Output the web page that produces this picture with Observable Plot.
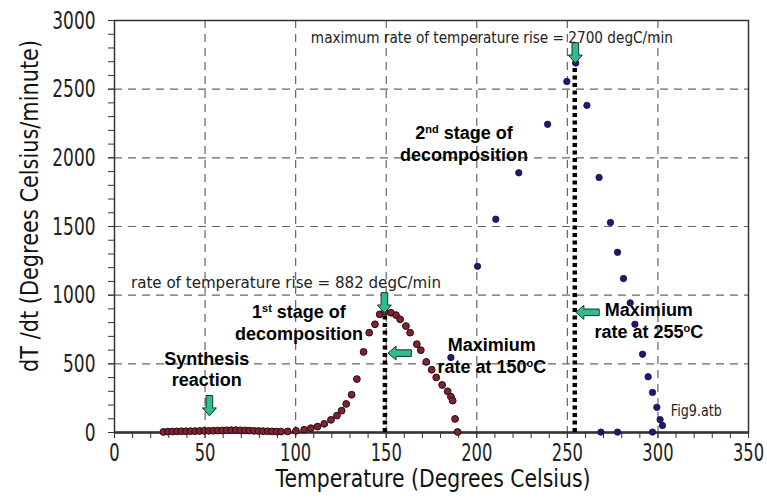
<!DOCTYPE html>
<html>
<head>
<meta charset="utf-8">
<script src="https://cdn.jsdelivr.net/npm/d3@7"></script>
<script src="https://cdn.jsdelivr.net/npm/@observablehq/plot@0.6"></script>
<style>
  html, body { margin: 0; padding: 0; background: #fff; }
  #chart svg { display: block; }
</style>
</head>
<body>
<div id="chart"></div>
<script>
// ---- data ----
const redT = [27, 29.5, 32, 34.5, 37, 39.5, 42, 44.5, 47, 49.5, 52, 54.5, 57, 59.5, 62, 64.5, 67, 69.5, 72, 74.5, 77, 79.5, 82, 84.5, 87, 89.5, 92,
  95.6, 100.2, 104.7, 108.4, 112.1, 115.8, 119.5, 122.8, 125.4, 127.9, 130.9, 133.8, 137.5, 140.6, 143.8, 146.4, 149.3,
  152.6, 155.4, 157.7, 160.9, 163.2, 166.9, 169.1, 172.1, 175.1, 177.6, 180.9, 183.9, 185.7, 186.7, 188.0, 189.4];
const redV = [4, 6, 7, 8, 9, 9, 10, 10, 11, 12, 12, 13, 14, 15, 16, 17, 17, 16, 15, 14, 12, 11, 10, 9, 8, 7, 7,
  8, 12, 20, 31, 43, 63, 92, 123, 159, 208, 275, 389, 587, 727, 788, 860, 880,
  872, 855, 824, 775, 727, 643, 599, 514, 457, 401, 346, 300, 261, 232, 99, 4];
const blueT = [185.7, 200.4, 210.5, 223.2, 239.1, 249.7, 254.6, 260.8, 267.5, 273.8, 277.7, 281.0, 284.7, 287.3, 291.5, 294.6, 297.0, 299.4, 301.2, 302.5, 268.5, 277.7, 297.0];
const blueV = [546, 1210, 1553, 1891, 2244, 2556, 2690, 2382, 1857, 1529, 1312, 1121, 944, 788, 570, 406, 292, 183, 94, 51, 3, 3, 3];

// peaks (dotted marker lines)
const peakT = [149.3, 254.1];
const peakV = [880, 2690];

// arrows
const downArrowT = [149.0, 52.4, 254.4];
const downArrowV = [870, 121, 2690];
const leftArrowT = [151.0, 254.7];
const leftArrowV = [578, 875];

// bold labels
const labelText = ["Synthesis\nreaction", "1{st} stage of\ndecomposition", "Maximium\nrate at 150{o}C", "2{nd} stage of\ndecomposition", "Maximium\nrate at 255{o}C"];
const labelT = [50.9, 101.8, 208.3, 192.9, 295];
const labelV = [466, 802, 562, 2109, 820];

// plain annotations
const noteText = ["maximum rate of temperature rise = 2700 degC/min", "rate of temperature rise = 882 degC/min", "Fig9.atb"];
const noteT = [108.4, 9.1, 307.1];
const noteV = [2873, 1091, 154];

const xMajor = [0, 50, 100, 150, 200, 250, 300, 350];
const yMajor = [0, 500, 1000, 1500, 2000, 2500, 3000];
const xLabel = "Temperature (Degrees Celsius)";
const yLabel = "dT /dt (Degrees Celsius/minute)";

// ---- build tables ----
const red = redT.map((t, i) => ({T: t, V: redV[i]}));
const blue = blueT.map((t, i) => ({T: t, V: blueV[i]}));
const peaks = peakT.map((t, i) => ({T: t, V: peakV[i]}));
const downs = downArrowT.map((t, i) => ({T: t, V: downArrowV[i]}));
const lefts = leftArrowT.map((t, i) => ({T: t, V: leftArrowV[i]}));
const labels = labelText.map((s, i) => ({s, T: labelT[i], V: labelV[i]}));
const notes = noteText.map((s, i) => ({s, T: noteT[i], V: noteV[i]}));

const FONT = '"DejaVu Sans", sans-serif';
const BOLD = '"Liberation Sans", Arial, sans-serif';

const blockArrow = {
  draw(ctx, l) {
    const w = 3.3, hw = 7, hl = 8;
    ctx.moveTo(-w, 0);
    ctx.lineTo(-w, -(l - hl));
    ctx.lineTo(-hw, -(l - hl));
    ctx.lineTo(0, -l);
    ctx.lineTo(hw, -(l - hl));
    ctx.lineTo(w, -(l - hl));
    ctx.lineTo(w, 0);
    ctx.closePath();
  }
};

const chart = Plot.plot({
  width: 767,
  height: 500,
  marginLeft: 114,
  marginRight: 19,
  marginTop: 20,
  marginBottom: 68,
  style: {fontFamily: FONT, background: "#fff"},
  x: {domain: [0, 350]},
  y: {domain: [0, 3000]},
  marks: [
    Plot.gridX(xMajor.slice(1, -1), {stroke: "#555", strokeOpacity: 0.9, strokeWidth: 1.2, strokeDasharray: "8,6"}),
    Plot.gridY(yMajor.slice(1, -1), {stroke: "#555", strokeOpacity: 0.9, strokeWidth: 1.2, strokeDasharray: "8,6"}),
    Plot.axisX(d3.range(0, 351, 10), {tickSize: 6, tickFormat: () => "", label: null, stroke: "#333"}),
    Plot.axisX(xMajor, {tickSize: 6, tickPadding: 5, fontSize: 24, tickFormat: d3.format("d"), label: null, fill: "#222", stroke: "#333"}),
    Plot.axisY(d3.range(0, 3001, 100), {tickSize: 6, tickFormat: () => "", label: null, stroke: "#333"}),
    Plot.axisY(yMajor, {tickSize: 6, tickPadding: 13, fontSize: 25, tickFormat: d3.format("d"), label: null, fill: "#222", stroke: "#333"}),
    Plot.frame({stroke: "#333", strokeWidth: 1.5}),
    Plot.ruleY([0], {stroke: "#333", strokeWidth: 2.5}),
    Plot.ruleX(peaks, {x: "T", y1: 0, y2: "V", stroke: "#000", strokeWidth: 4.5, strokeDasharray: "4,3.5"}),
    Plot.dot(red, {x: "T", y: "V", r: 3.4, fill: "#7d2333", stroke: "#2a0a0f", strokeWidth: 1}),
    Plot.dot(blue, {x: "T", y: "V", r: 3.2, fill: "#1d1a70", stroke: "#120f45", strokeWidth: 0.8}),
    Plot.vector(downs, {x: "T", y: "V", length: 20, rotate: 180, anchor: "end", shape: blockArrow, fill: "#2dbd8e", stroke: "#17352b", strokeWidth: 1}),
    Plot.vector(lefts, {x: "T", y: "V", length: 23, rotate: -90, anchor: "end", shape: blockArrow, fill: "#2dbd8e", stroke: "#17352b", strokeWidth: 1}),
    Plot.text(labels, {x: "T", y: "V", text: "s", fontFamily: BOLD, fontWeight: "bold", fontSize: 18, lineHeight: 1.2, fill: "#000", textAnchor: "middle"}),
    Plot.text(notes, {x: "T", y: "V", text: "s", fontSize: 16, fill: "#222", textAnchor: "start"}),
    Plot.text([xLabel], {x: () => 175.8, y: () => -337, text: d => d, fontSize: 25, fill: "#111", clip: false}),
    Plot.text([yLabel], {x: () => -46.9, y: () => 1650, rotate: -90, text: d => d, fontSize: 25, fill: "#111", clip: false})
  ]
});

// superscripts written as {xx}
(function supers(svg) {
  const walker = document.createTreeWalker(svg, NodeFilter.SHOW_TEXT);
  const nodes = [];
  while (walker.nextNode()) nodes.push(walker.currentNode);
  for (const n of nodes) {
    const s = n.nodeValue;
    if (!s.includes("{")) continue;
    const frag = document.createDocumentFragment();
    let last = 0;
    s.replace(/\{([^}]+)\}/g, (m, g, i) => {
      frag.appendChild(document.createTextNode(s.slice(last, i)));
      const t = document.createElementNS("http://www.w3.org/2000/svg", "tspan");
      t.setAttribute("baseline-shift", "super");
      t.setAttribute("font-size", "11");
      t.textContent = g;
      frag.appendChild(t);
      last = i + m.length;
      return m;
    });
    frag.appendChild(document.createTextNode(s.slice(last)));
    n.parentNode.replaceChild(frag, n);
  }
})(chart);

document.getElementById("chart").appendChild(chart);

// condense the axis-style typeface (the reference uses a narrow font)
function fit(el, w) {
  el.setAttribute("textLength", w);
  el.setAttribute("lengthAdjust", "spacingAndGlyphs");
}
chart.querySelectorAll('g[aria-label="x-axis tick label"] text, g[aria-label="y-axis tick label"] text').forEach(t => {
  if (t.textContent) fit(t, t.getComputedTextLength() * 0.68);
});
const widthFor = new Map([[noteText[0], 362], [noteText[1], 310], [noteText[2], 51], [xLabel, 315], [yLabel, 332]]);
chart.querySelectorAll("text").forEach(t => {
  if (widthFor.has(t.textContent)) fit(t, widthFor.get(t.textContent));
});
</script>
</body>
</html>
